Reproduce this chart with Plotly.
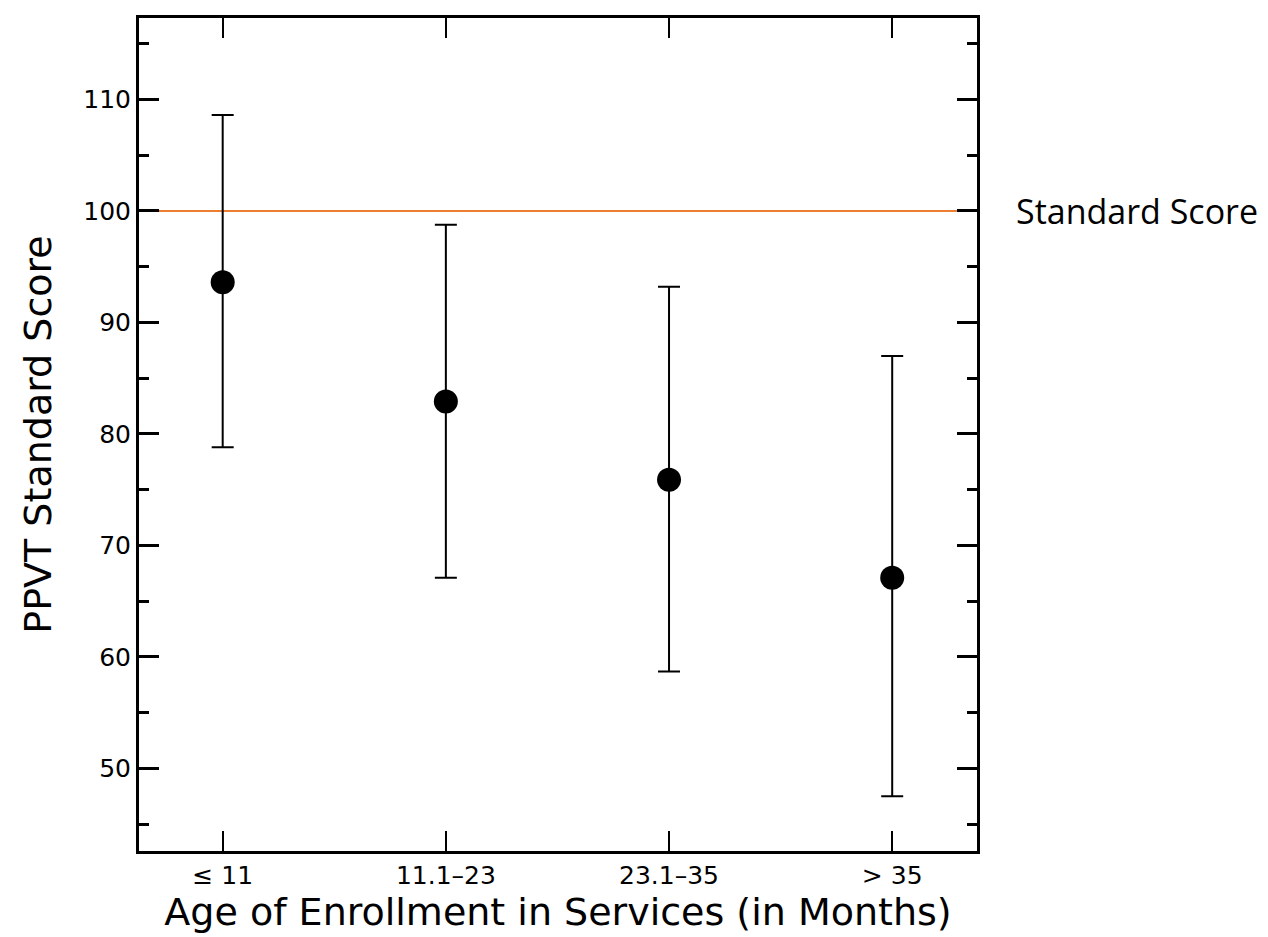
import plotly.graph_objects as go

categories = ["≤ 11", "11.1–23", "23.1–35", "> 35"]
means = [93.6, 82.9, 75.9, 67.1]
upper = [108.6, 98.75, 93.2, 87.0]
lower = [78.8, 67.1, 58.7, 47.5]
standard_score = 100
y_ticks = [50, 60, 70, 80, 90, 100, 110]

xpos = list(range(len(categories)))
err_plus = [u - m for u, m in zip(upper, means)]
err_minus = [m - l for m, l in zip(means, lower)]

fig = go.Figure()
fig.add_trace(go.Scatter(
    x=xpos, y=means, mode="markers",
    marker=dict(size=24, color="black"),
    error_y=dict(type="data", symmetric=False, array=err_plus, arrayminus=err_minus,
                 color="black", thickness=2, width=11),
    showlegend=False,
))

fig.add_shape(type="line", xref="x domain", yref="y", x0=0, x1=0.976,
              y0=standard_score, y1=standard_score,
              line=dict(color="#ED7D31", width=2), layer="below")

fig.add_annotation(text="Standard Score", xref="paper", yref="y", x=1.044, y=standard_score,
                   xanchor="left", yanchor="middle", showarrow=False,
                   font=dict(family="Open Sans", size=34, color="black"))

axis_font = dict(family="DejaVu Sans", size=25, color="black")
fig.update_xaxes(
    range=[-0.375, 3.38], tickvals=xpos, ticktext=categories,
    ticks="inside", ticklen=20, tickwidth=2, tickcolor="black",
    showline=True, linecolor="black", linewidth=3, mirror="ticks",
    showgrid=False, zeroline=False, tickfont=axis_font,
    title=dict(text="Age of Enrollment in Services (in Months)",
               font=dict(family="DejaVu Sans", size=38, color="black"), standoff=2),
)
fig.update_yaxes(
    range=[42.6, 117.3], tickvals=y_ticks,
    ticks="inside", ticklen=20, tickwidth=3, tickcolor="black",
    minor=dict(dtick=5, ticks="inside", ticklen=10, tickwidth=3, tickcolor="black", showgrid=False),
    showline=True, linecolor="black", linewidth=3, mirror="ticks",
    showgrid=False, zeroline=False, tickfont=axis_font,
    title=dict(text="PPVT Standard Score",
               font=dict(family="DejaVu Sans", size=38, color="black"), standoff=20),
)

fig.update_layout(
    width=1268, height=937,
    margin=dict(l=131, r=299, t=7, b=94),
    plot_bgcolor="white", paper_bgcolor="white",
)

fig.write_html("out.html")
